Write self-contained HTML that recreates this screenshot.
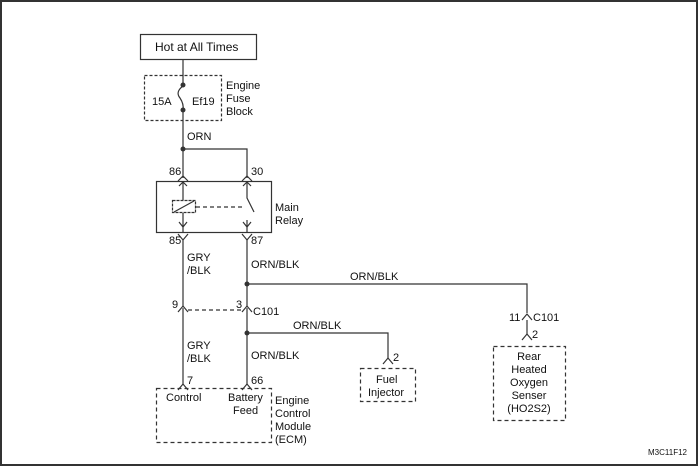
<!DOCTYPE html>
<html><head><meta charset="utf-8"><style>
html,body{margin:0;padding:0;background:#fff}
svg{display:block}
text{font-family:"Liberation Sans",sans-serif;font-size:11px;fill:#111}
</style></head><body>
<svg width="700" height="467" viewBox="0 0 700 467" xmlns="http://www.w3.org/2000/svg">
<rect x="1" y="1" width="696" height="464" fill="none" stroke="#333" stroke-width="2"/>
<g fill="none" stroke="#333" stroke-width="1.2">
<!-- header -->
<rect x="140.5" y="34.5" width="116" height="25"/>
<!-- fuse box -->
<rect x="144.5" y="75.5" width="77" height="45" stroke-dasharray="3,2"/>
<line x1="183" y1="60" x2="183" y2="85"/>
<path d="M183 86 q-8 6 -3 12 q4 6 3 12"/>
<line x1="183" y1="110" x2="183" y2="178"/>
<polyline points="183,149 247,149 247,178"/>
<!-- relay -->
<rect x="156.5" y="181.5" width="115" height="51"/>
<rect x="172.5" y="200.5" width="23" height="12" stroke-dasharray="3,1"/>
<line x1="174" y1="212" x2="194" y2="201"/>
<line x1="196" y1="207" x2="243" y2="207" stroke-dasharray="4,3"/>
<line x1="183" y1="181" x2="183" y2="200"/>
<line x1="183" y1="213" x2="183" y2="232"/>
<polyline points="247,181 247,198 254,212"/>
<line x1="247" y1="220" x2="247" y2="232"/>
<path d="M243 222 l4 5 l4 -5"/>
<path d="M179 186 l4 -4 l4 4"/><path d="M243 186 l4 -4 l4 4"/>
<path d="M179 222 l4 5 l4 -5"/>
<!-- connectors at top of relay -->
<path d="M178 181 l5 -5 l5 5"/><path d="M242 181 l5 -5 l5 5"/>
<!-- bottom pins -->
<path d="M178 234 l5 6 l5 -6"/><path d="M242 234 l5 6 l5 -6"/>
<line x1="183" y1="240" x2="183" y2="306"/>
<line x1="247" y1="240" x2="247" y2="306"/>
<!-- C101 -->
<path d="M178 312 l5 -6 l5 6"/><path d="M242 312 l5 -6 l5 6"/>
<line x1="188" y1="310" x2="242" y2="310" stroke-dasharray="4,3"/>
<line x1="183" y1="308" x2="183" y2="384"/>
<line x1="247" y1="308" x2="247" y2="384"/>
<path d="M178 390 l5 -6 l5 6"/><path d="M242 390 l5 -6 l5 6"/>
<!-- ECM box -->
<rect x="156.5" y="388.5" width="115" height="54" stroke-dasharray="4,3"/>
<!-- right branch -->
<polyline points="247,284 527,284 527,313"/>
<path d="M522 320 l5 -6 l5 6"/>
<line x1="527" y1="320" x2="527" y2="334"/>
<path d="M522 340 l5 -6 l5 6"/>
<rect x="493.5" y="346.5" width="72" height="74" stroke-dasharray="4,3"/>
<!-- injector -->
<polyline points="247,333 388,333 388,358"/>
<path d="M383 364 l5 -6 l5 6"/>
<rect x="360.5" y="368.5" width="55" height="33" stroke-dasharray="4,3"/>
</g>
<g fill="#333">
<circle cx="183" cy="85" r="2.5"/><circle cx="183" cy="110" r="2.5"/>
<circle cx="183" cy="149" r="2.5"/><circle cx="247" cy="284" r="2.5"/><circle cx="247" cy="333" r="2.5"/>
</g>
<text x="155" y="51" style="font-size:12px">Hot at All Times</text>
<text x="152" y="105">15A</text><text x="192" y="105">Ef19</text>
<text x="226" y="89">Engine</text><text x="226" y="102">Fuse</text><text x="226" y="115">Block</text>
<text x="187" y="140">ORN</text>
<text x="169" y="175">86</text><text x="251" y="175">30</text>
<text x="275" y="211">Main</text><text x="275" y="224">Relay</text>
<text x="169" y="244">85</text><text x="251" y="244">87</text>
<text x="187" y="261">GRY</text><text x="187" y="274">/BLK</text>
<text x="251" y="268">ORN/BLK</text>
<text x="350" y="280">ORN/BLK</text>
<text x="172" y="308">9</text><text x="236" y="308">3</text><text x="253" y="315">C101</text>
<text x="293" y="329">ORN/BLK</text>
<text x="187" y="349">GRY</text><text x="187" y="362">/BLK</text>
<text x="251" y="359">ORN/BLK</text>
<text x="187" y="384">7</text><text x="251" y="384">66</text>
<text x="166" y="401">Control</text>
<text x="228" y="401">Battery</text><text x="233" y="414">Feed</text>
<text x="275" y="404">Engine</text><text x="275" y="417">Control</text><text x="275" y="430">Module</text><text x="275" y="443">(ECM)</text>
<text x="393" y="361">2</text>
<text x="376" y="383">Fuel</text><text x="368" y="396">Injector</text>
<text x="509" y="321">11</text><text x="533" y="321">C101</text>
<text x="532" y="338">2</text>
<text x="529" y="360" text-anchor="middle">Rear</text>
<text x="529" y="373" text-anchor="middle">Heated</text>
<text x="529" y="386" text-anchor="middle">Oxygen</text>
<text x="529" y="399" text-anchor="middle">Senser</text>
<text x="529" y="412" text-anchor="middle">(HO2S2)</text>
<text x="648" y="455" style="font-size:8px">M3C11F12</text>
</svg>
</body></html>
